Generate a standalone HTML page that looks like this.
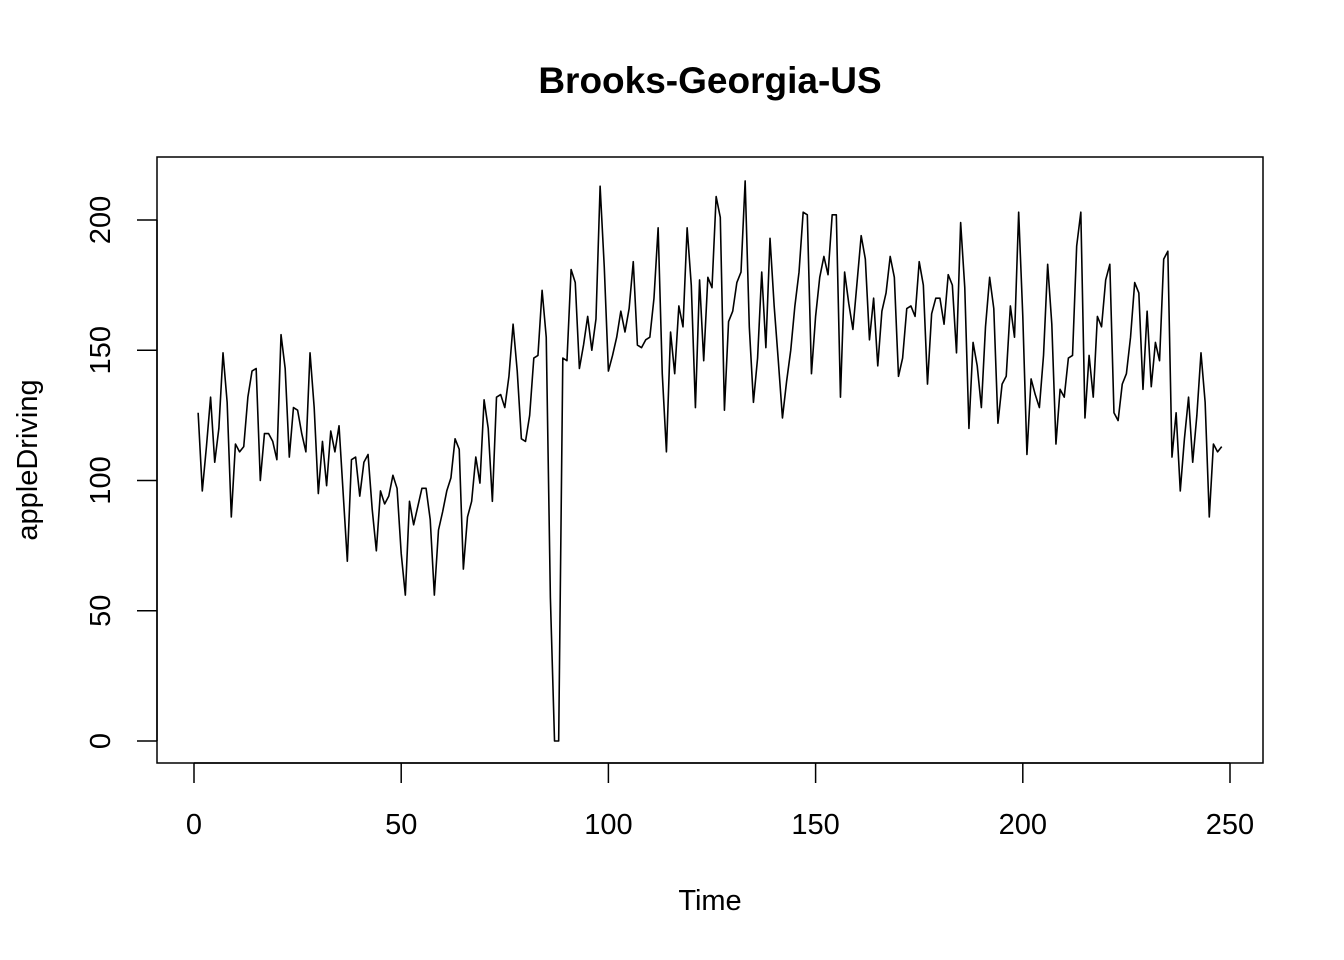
<!DOCTYPE html>
<html><head><meta charset="utf-8"><style>
html,body{margin:0;padding:0;background:#fff;}
svg{display:block;font-family:"Liberation Sans",Arial,sans-serif;}
</style></head><body>
<svg id="chart" width="1344" height="960" viewBox="0 0 1344 960">
<rect x="0" y="0" width="1344" height="960" fill="#fff"/>
<text x="710" y="93" text-anchor="middle" font-size="37" font-weight="bold">Brooks-Georgia-US</text>
<rect x="157" y="157" width="1106" height="606" fill="none" stroke="#000" stroke-width="1.5"/>
<text x="710" y="910" text-anchor="middle" font-size="29">Time</text>
<text transform="translate(37,460) rotate(-90)" text-anchor="middle" font-size="29">appleDriving</text>
<g id="axes"></g>
<path id="series" fill="none" stroke="#000" stroke-width="1.6" stroke-linejoin="round"/>
</svg>
<script>
const values = [126,96,113,132,107,120,149,130,86,114,111,113,132,142,143,100,118,118,115,108,156,143,109,128,127,118,111,149,128,95,115,98,119,111,121,95,69,108,109,94,107,110,89,73,96,91,94,102,97,72,56,92,83,90,97,97,85,56,81,88,96,101,116,112,66,86,92,109,99,131,120,92,132,133,128,140,160,142,116,115,125,147,148,173,155,55,0,0,147,146,181,176,143,152,163,150,162,213,182,142,148,155,165,157,166,184,152,151,154,155,170,197,141,111,157,141,167,159,197,175,128,177,146,178,174,209,201,127,161,165,176,180,215,159,130,147,180,151,193,167,146,124,138,150,167,180,203,202,141,163,178,186,179,202,202,132,180,168,158,176,194,185,154,170,144,165,172,186,178,140,147,166,167,163,184,175,137,164,170,170,160,179,175,149,199,174,120,153,144,128,159,178,166,122,137,140,167,155,203,163,110,139,133,128,148,183,160,114,135,132,147,148,190,203,124,148,132,163,159,177,183,126,123,137,141,155,176,172,135,165,136,153,146,185,188,109,126,96,116,132,107,125,149,130,86,114,111,113];
const xTicks = [0,50,100,150,200,250];
const yTicks = [0,50,100,150,200];

const xs = v => 194 + (v/250)*(1230-194);
const ys = v => 741 - (v/200)*(741-220);
const NS = "http://www.w3.org/2000/svg";
const axes = document.getElementById('axes');
function mk(tag, attrs){const e=document.createElementNS(NS,tag);for(const k in attrs)e.setAttribute(k,attrs[k]);return e;}

const xl = mk('line',{x1:xs(xTicks[0]),x2:xs(xTicks[xTicks.length-1]),y1:763,y2:763,stroke:'#000','stroke-width':1.5});


axes.appendChild(xl);
xTicks.forEach(t=>{
  const l=mk('line',{x1:xs(t),x2:xs(t),y1:763,y2:783,stroke:'#000','stroke-width':1.5});
  
  
  axes.appendChild(l);
  const tx=mk('text',{x:xs(t),y:834,'text-anchor':'middle','font-size':29});
  tx.textContent=t;
  
  
  axes.appendChild(tx);
});
const yl = mk('line',{x1:157,x2:157,y1:ys(yTicks[0]),y2:ys(yTicks[yTicks.length-1]),stroke:'#000','stroke-width':1.5});


axes.appendChild(yl);
yTicks.forEach(t=>{
  const l=mk('line',{x1:137,x2:157,y1:ys(t),y2:ys(t),stroke:'#000','stroke-width':1.5});
  
  
  axes.appendChild(l);
  const tx=mk('text',{transform:`translate(110,${ys(t)}) rotate(-90)`,'text-anchor':'middle','font-size':29});
  tx.textContent=t;
  
  
  axes.appendChild(tx);
});
document.getElementById('series').setAttribute('d', values.map((v,i)=>(i?'L':'M')+xs(i+1).toFixed(2)+','+ys(v).toFixed(2)).join(''));
</script>
</body></html>
